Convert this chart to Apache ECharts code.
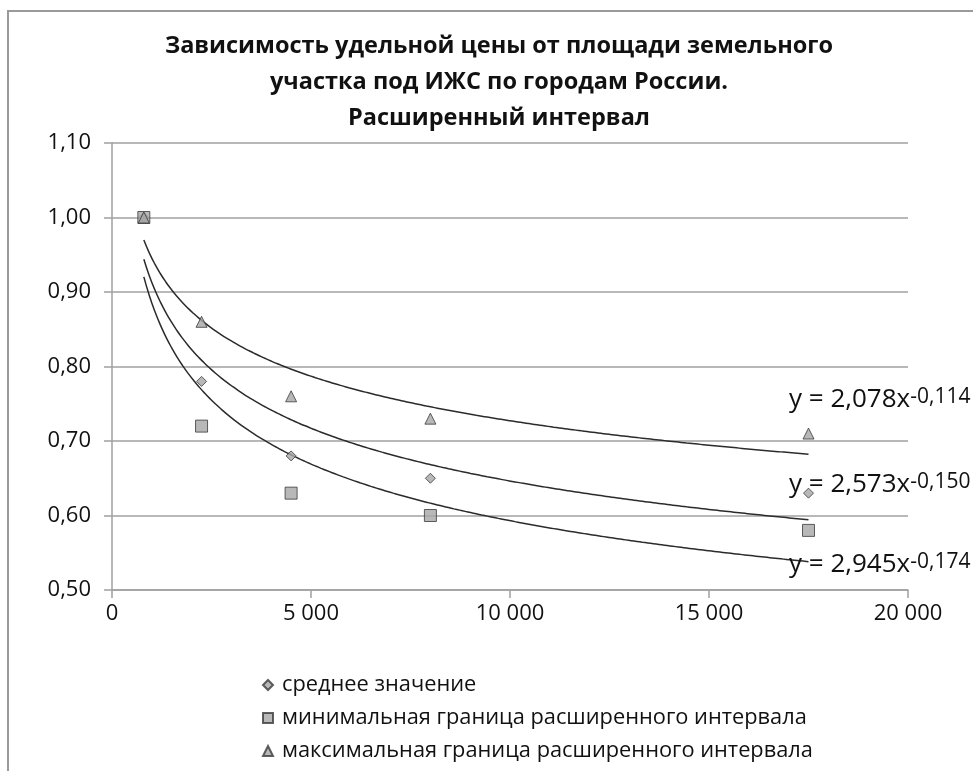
<!DOCTYPE html>
<html>
<head>
<meta charset="UTF-8">
<title>Зависимость удельной цены от площади</title>
<script src="https://cdn.jsdelivr.net/npm/echarts@6/dist/echarts.min.js"></script>
</head>
<body style="margin:0;background:#fff;">
<div id="main" style="width:973px;height:771px;"></div>
<script>
// площадь участка, кв. м
var areas = [800, 2250, 4500, 8000, 17500];
// среднее / минимум / максимум расширенного интервала
var meanVals = [1.00, 0.78, 0.68, 0.65, 0.63];
var minVals = [1.00, 0.72, 0.63, 0.60, 0.58];
var maxVals = [1.00, 0.86, 0.76, 0.73, 0.71];
var seriesNames = [
    'среднее значение',
    'минимальная граница расширенного интервала',
    'максимальная граница расширенного интервала'
];
// степенные линии тренда y = a * x^b (коэффициенты с графика)
var trendA = [2.573, 2.945, 2.078];
var trendB = [-0.150, -0.174, -0.114];
var trendText = ['2,573', '2,945', '2,078'];
var trendPow = ['-0,150', '-0,174', '-0,114'];
var yTicks = ['0,50', '0,60', '0,70', '0,80', '0,90', '1,00', '1,10'];

var font = '"Open Sans", "Noto Sans", sans-serif';
var gray = '#a0a0a0';

function pairs(ys) {
    var out = [];
    for (var i = 0; i < areas.length; i++) out.push([areas[i], ys[i]]);
    return out;
}

function trend(k) {
    var out = [];
    var x0 = areas[0], x1 = areas[areas.length - 1];
    for (var i = 0; i <= 120; i++) {
        var x = x0 + (x1 - x0) * i / 120;
        out.push([x, trendA[k] * Math.pow(x, trendB[k])]);
    }
    return out;
}

var markerStyle = {color: '#a6a6a6', borderColor: '#3a3a3a', borderWidth: 1};
var symbols = ['diamond', 'rect', 'triangle'];
var sizes = [10, 12, 11];
var values = [meanVals, minVals, maxVals];

var series = [];
for (var k = 0; k < 3; k++) {
    series.push({
        name: 'trend' + k,
        type: 'line',
        data: trend(k),
        showSymbol: false,
        smooth: true,
        silent: true,
        z: 2,
        lineStyle: {color: '#2b2b2b', width: 1.5}
    });
}
for (var s = 0; s < 3; s++) {
    series.push({
        name: seriesNames[s],
        type: 'scatter',
        data: pairs(values[s]),
        symbol: symbols[s],
        symbolSize: sizes[s],
        itemStyle: markerStyle,
        z: 3 + s
    });
}

var eqTops = [472, 552, 387];
var graphics = [{
    type: 'rect',
    shape: {x: 8, y: 11, width: 1100, height: 900},
    style: {fill: 'none', stroke: '#9a9a9a', lineWidth: 2},
    silent: true
}];
for (var e = 0; e < 3; e++) {
    graphics.push({
        type: 'text',
        left: 789,
        top: eqTops[e],
        z: 10,
        style: {
            text: '{a|y = ' + trendText[e] + 'x}{b|' + trendPow[e] + '}',
            rich: {
                a: {fontSize: 26, fontFamily: font, fill: '#111'},
                b: {fontSize: 21, fontFamily: font, fill: '#111', verticalAlign: 'top'}
            }
        }
    });
}

var chart = echarts.init(document.getElementById('main'));
chart.setOption({
    animation: false,
    backgroundColor: '#fff',
    title: {
        text: 'Зависимость удельной цены от площади земельного\nучастка под ИЖС по городам России.\nРасширенный интервал',
        left: 494,
        textAlign: 'center',
        top: 23,
        textStyle: {fontFamily: font, fontSize: 23.5, fontWeight: 'bold', color: '#111', lineHeight: 36}
    },
    legend: {
        orient: 'vertical',
        left: 257,
        top: 669,
        itemGap: 11,
        itemWidth: 10,
        itemHeight: 10,
        data: [
            {name: seriesNames[0], icon: 'diamond'},
            {name: seriesNames[1], icon: 'rect'},
            {name: seriesNames[2], icon: 'triangle'}
        ],
        textStyle: {fontFamily: font, fontSize: 21.8, color: '#111', lineHeight: 22, padding: [0, 0, 0, 4]}
    },
    grid: {left: 112, right: 65, top: 143, bottom: 181},
    xAxis: {
        type: 'value',
        min: 0,
        max: 20000,
        interval: 5000,
        axisLine: {lineStyle: {color: gray, width: 1.5}},
        axisTick: {show: true, length: 8, lineStyle: {color: gray, width: 1.5}},
        splitLine: {show: false},
        axisLabel: {
            fontFamily: font,
            fontSize: 22,
            color: '#111',
            margin: 13,
            formatter: function (v) {
                return v >= 1000 ? Math.floor(v / 1000) + ' 000' : String(v);
            }
        }
    },
    yAxis: {
        type: 'value',
        min: 0.5,
        max: 1.1,
        interval: 0.1,
        axisLine: {show: true, lineStyle: {color: gray, width: 1.5}},
        axisTick: {show: true, length: 8, lineStyle: {color: gray, width: 1.5}},
        splitLine: {show: true, lineStyle: {color: gray, width: 1.5}},
        axisLabel: {
            fontFamily: font,
            fontSize: 22,
            color: '#111',
            margin: 21,
            formatter: function (v) {
                return yTicks[Math.round((v - 0.5) * 10)];
            }
        }
    },
    graphic: graphics,
    series: series
});
</script>
</body>
</html>
